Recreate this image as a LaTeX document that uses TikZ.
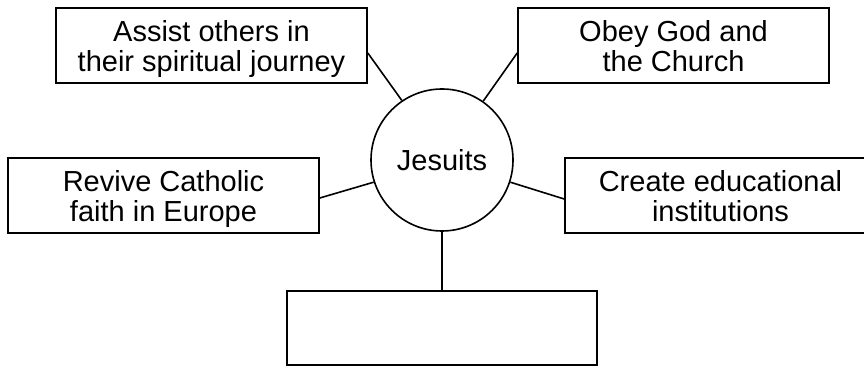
\documentclass[tikz,border=0pt]{standalone}
\usepackage{fontspec}
\setmainfont{Liberation Sans}
\usepackage{tikz}

\begin{document}
\begin{tikzpicture}[x=1pt,y=1pt,
  box/.style={rectangle,draw,line width=1.6pt,minimum width=311pt,minimum height=75pt,inner sep=0pt,align=center,text height=52pt,text depth=0pt,font=\fontsize{29}{30}\selectfont},
  hub/.style={circle,draw,line width=1.6pt,minimum size=142pt,inner sep=0pt,font=\fontsize{29}{30}\selectfont}]
\clip (0,0) rectangle (864,366);
\node[hub] (0) at (442,206) {Jesuits};
\node[box] (1) at (211.5,320.5) {Assist others in\\their spiritual journey};
\node[box] (2) at (673.5,320.5) {Obey God and\\the Church};
\node[box] (3) at (163.5,170.5) {Revive Catholic\\faith in Europe};
\node[box] (4) at (720.5,170.5) {Create educational\\institutions};
\node[box,minimum width=310pt,minimum height=74pt] (5) at (442,38) {};
\path[draw,line width=1.6pt](0.124) edge node {} ([yshift=-7.5pt]1.east);
\path[draw,line width=1.6pt](0.55) edge node {} ([yshift=-7.5pt]2.west);
\path[draw,line width=1.6pt](0.198) edge node {} ([yshift=-2.5pt]3.east);
\path[draw,line width=1.6pt](0.-18) edge node {} ([yshift=-3.5pt]4.west);
\path[draw,line width=1.6pt](0.south) edge node {} (5.north);
\end{tikzpicture}
\end{document}
